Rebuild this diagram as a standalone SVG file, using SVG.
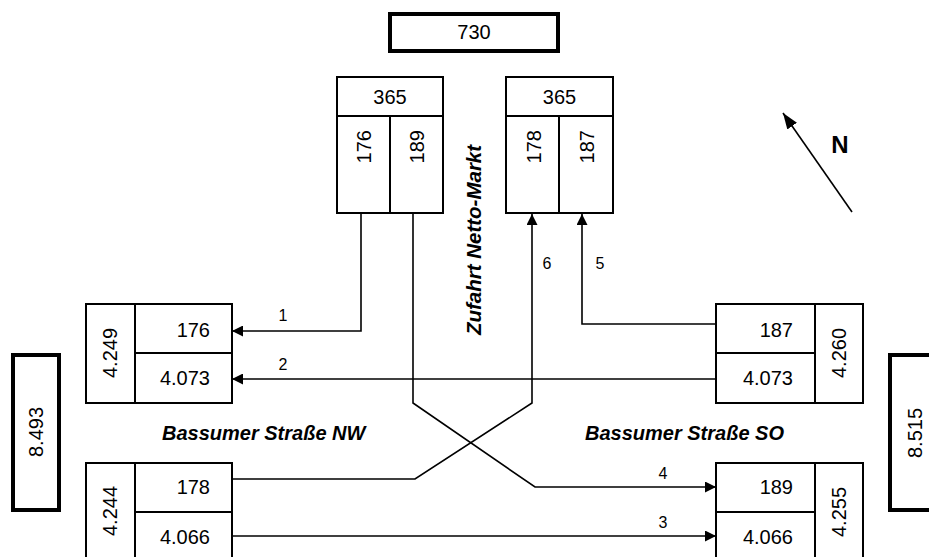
<svg xmlns="http://www.w3.org/2000/svg" width="929" height="557" viewBox="0 0 929 557">
<style>
text{font-family:"Liberation Sans",Arial,sans-serif;fill:#000}
.v{font-size:20px}
.lbl{font-size:16px;text-anchor:middle}
.road{font-size:20px;font-weight:bold;font-style:italic}
.box{fill:#fff;stroke:#000;stroke-width:2}
.thick{fill:#fff;stroke:#000;stroke-width:4}
.ln{fill:none;stroke:#000;stroke-width:1.6}
.dv{stroke:#000;stroke-width:2}
.c{text-anchor:middle}
.e{text-anchor:end}
</style>
<defs>
<marker id="ah" markerUnits="userSpaceOnUse" markerWidth="11" markerHeight="11" refX="10" refY="5" orient="auto" viewBox="0 0 10 10">
<path d="M0,0 L10,5 L0,10 z" fill="#000"/>
</marker>
<marker id="ahN" markerUnits="userSpaceOnUse" markerWidth="16" markerHeight="12" refX="15" refY="5.5" orient="auto" viewBox="0 0 15 11">
<path d="M0,0 L15,5.5 L0,11 z" fill="#000"/>
</marker>
</defs>
<rect width="929" height="557" fill="#fff"/>

<g id="total-top">
<rect class="thick" x="390" y="14" width="168" height="37"/>
<text class="v c" x="474" y="39">730</text>
</g>

<g id="netto-out">
<rect class="box" x="337" y="77" width="106" height="136"/>
<line class="dv" x1="337" y1="116" x2="443" y2="116"/>
<line class="dv" x1="390" y1="116" x2="390" y2="213"/>
<text class="v c" x="390" y="104">365</text>
<text class="v e" transform="translate(370.5,130) rotate(-90)">176</text>
<text class="v e" transform="translate(423.5,130) rotate(-90)">189</text>
</g>

<g id="netto-in">
<rect class="box" x="506" y="77" width="107" height="136"/>
<line class="dv" x1="506" y1="116" x2="613" y2="116"/>
<line class="dv" x1="559" y1="116" x2="559" y2="213"/>
<text class="v c" x="559.5" y="104">365</text>
<text class="v e" transform="translate(540.5,130) rotate(-90)">178</text>
<text class="v e" transform="translate(593.5,130) rotate(-90)">187</text>
</g>

<g id="nw-in">
<rect class="box" x="86" y="304" width="146" height="99"/>
<line class="dv" x1="135" y1="304" x2="135" y2="403"/>
<line class="dv" x1="135" y1="353" x2="232" y2="353"/>
<text class="v c" transform="translate(117,353) rotate(-90)">4.249</text>
<text class="v e" x="210" y="337">176</text>
<text class="v e" x="210" y="385">4.073</text>
</g>

<g id="nw-out">
<rect class="box" x="86" y="463" width="146" height="100"/>
<line class="dv" x1="135" y1="463" x2="135" y2="563"/>
<line class="dv" x1="135" y1="512" x2="232" y2="512"/>
<text class="v c" transform="translate(117,511) rotate(-90)">4.244</text>
<text class="v e" x="210" y="494">178</text>
<text class="v e" x="210" y="544">4.066</text>
</g>

<g id="so-out">
<rect class="box" x="716" y="304" width="147" height="99"/>
<line class="dv" x1="815" y1="304" x2="815" y2="403"/>
<line class="dv" x1="716" y1="353" x2="815" y2="353"/>
<text class="v c" transform="translate(846,353) rotate(-90)">4.260</text>
<text class="v e" x="793" y="337">187</text>
<text class="v e" x="793" y="385">4.073</text>
</g>

<g id="so-in">
<rect class="box" x="716" y="463" width="147" height="100"/>
<line class="dv" x1="815" y1="463" x2="815" y2="563"/>
<line class="dv" x1="716" y1="512" x2="815" y2="512"/>
<text class="v c" transform="translate(846,512) rotate(-90)">4.255</text>
<text class="v e" x="793" y="494">189</text>
<text class="v e" x="793" y="544">4.066</text>
</g>

<g id="total-nw">
<rect class="thick" x="13" y="355" width="46" height="155"/>
<text class="v c" transform="translate(43,432) rotate(-90)">8.493</text>
</g>

<g id="total-so">
<rect class="thick" x="890" y="355" width="60" height="155"/>
<text class="v c" transform="translate(922,433) rotate(-90)">8.515</text>
</g>

<g id="labels">
<text class="road" x="162" y="440">Bassumer Straße NW</text>
<text class="road" x="585" y="440">Bassumer Straße SO</text>
<text class="road c" transform="translate(481,240) rotate(-90)" style="font-size:20.5px">Zufahrt Netto-Markt</text>
</g>

<g id="north">
<line class="ln" x1="852" y1="212" x2="783" y2="113" marker-end="url(#ahN)"/>
<text x="840" y="153" style="font-size:24px;font-weight:bold;text-anchor:middle">N</text>
</g>

<g id="connectors">
<path class="ln" d="M361,213 V331 H232" marker-end="url(#ah)"/>
<path class="ln" d="M716,379 H232" marker-end="url(#ah)"/>
<path class="ln" d="M232,536 H716" marker-end="url(#ah)"/>
<path class="ln" d="M413,213 V403 L535,487 H716" marker-end="url(#ah)"/>
<path class="ln" d="M716,324 H582 V214" marker-end="url(#ah)"/>
<path class="ln" d="M232,479 H415 L532,403 V214" marker-end="url(#ah)"/>
<text class="lbl" x="283" y="321">1</text>
<text class="lbl" x="283" y="370">2</text>
<text class="lbl" x="663" y="528">3</text>
<text class="lbl" x="663" y="479">4</text>
<text class="lbl" x="600" y="269">5</text>
<text class="lbl" x="547" y="269">6</text>
</g>
</svg>
